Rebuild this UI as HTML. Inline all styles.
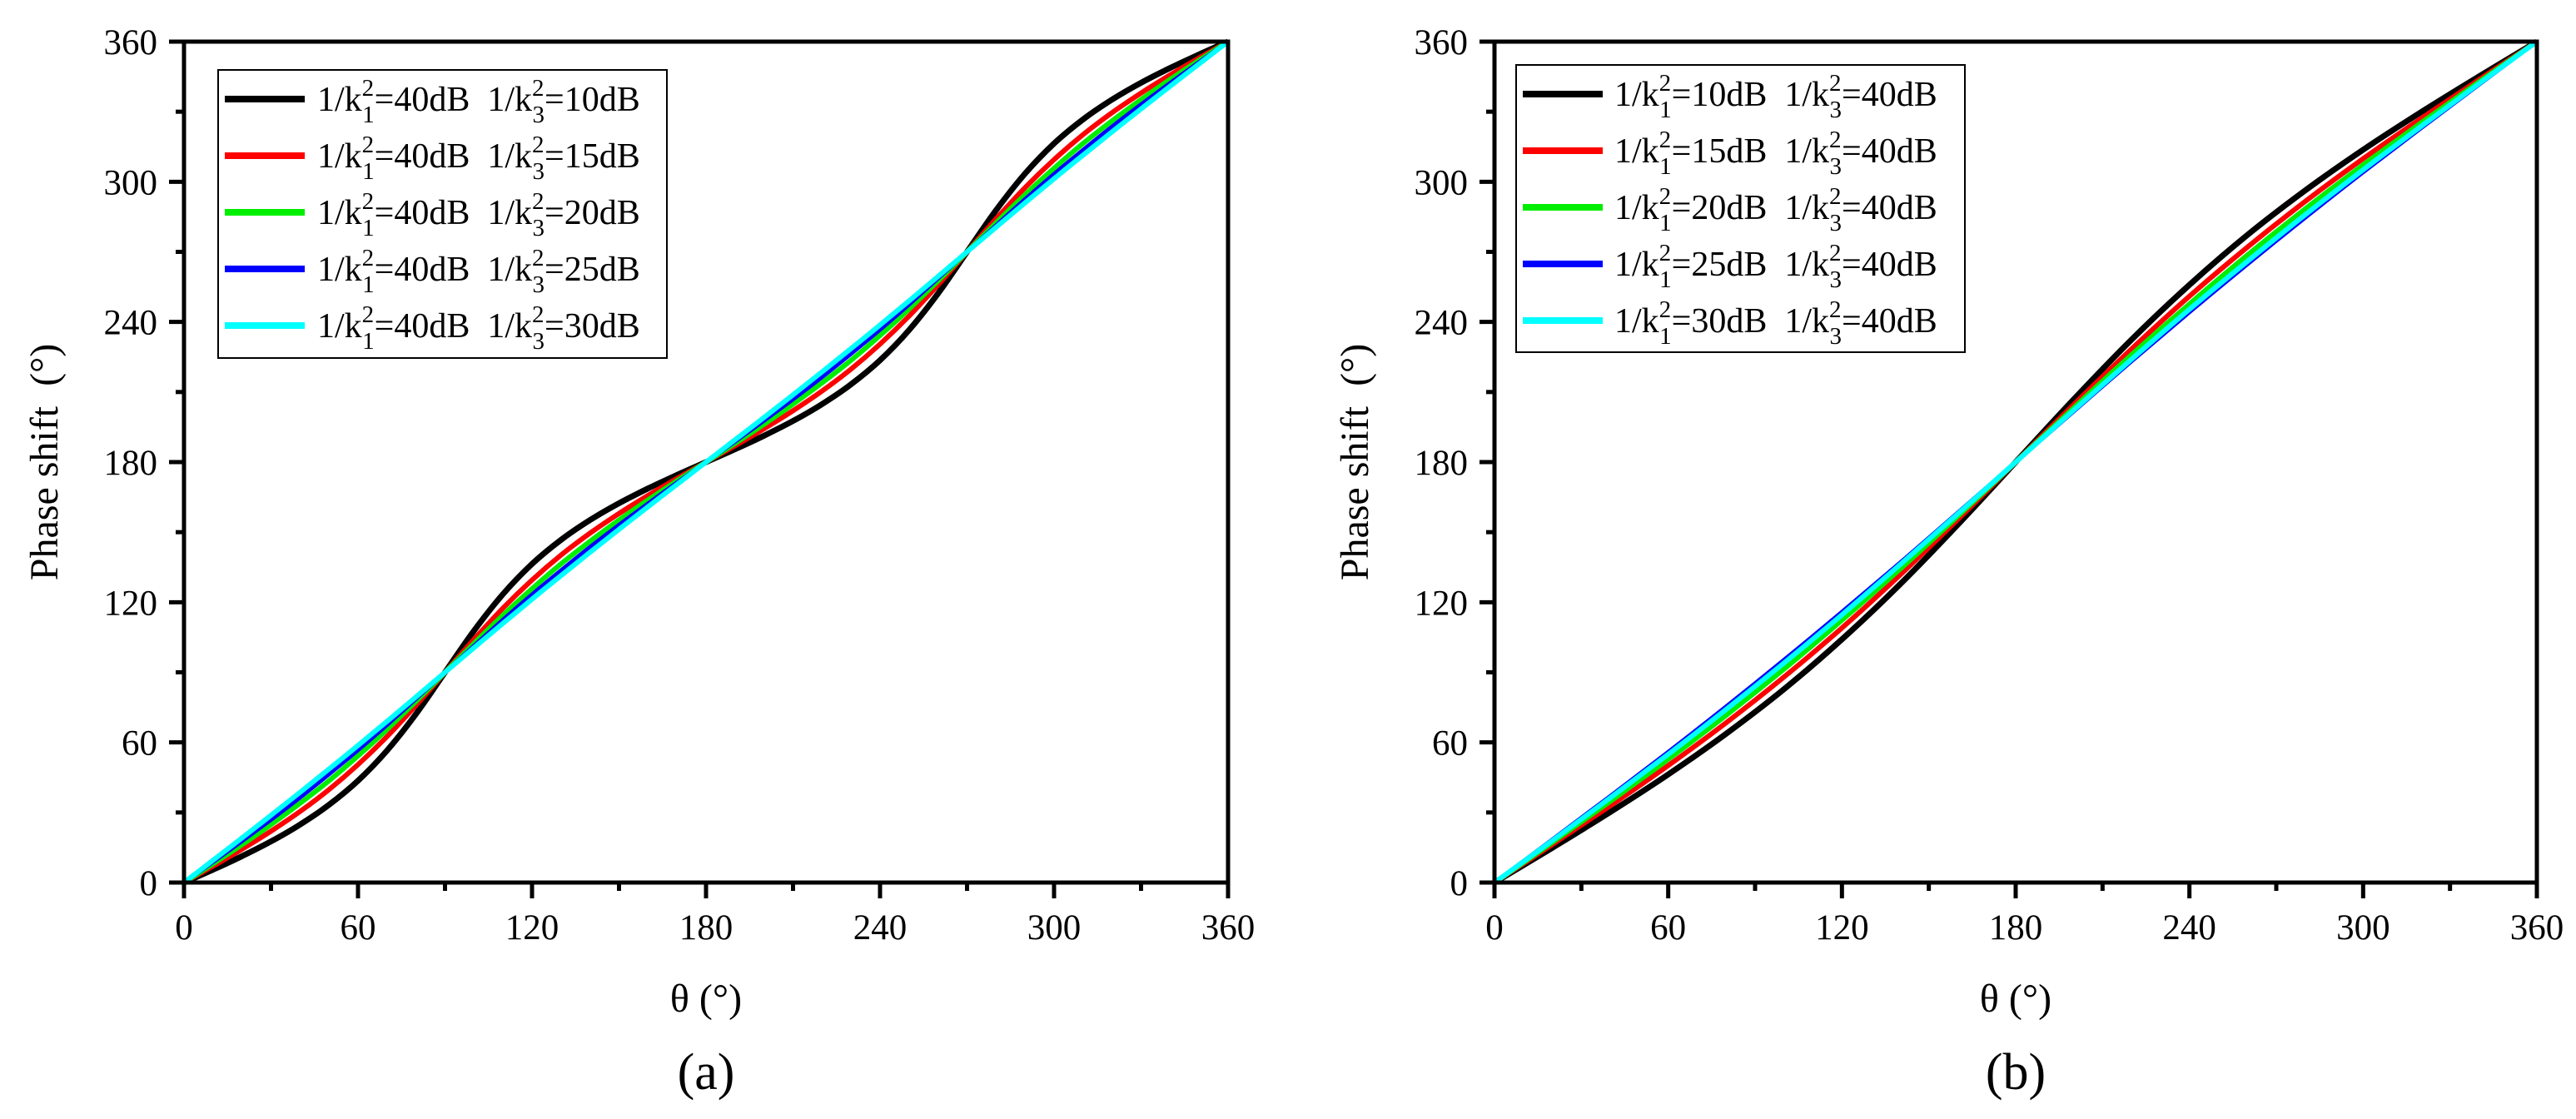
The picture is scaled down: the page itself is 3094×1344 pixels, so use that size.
<!DOCTYPE html>
<html><head><meta charset="utf-8"><style>
html,body{margin:0;padding:0;background:#fff;}
svg{display:block;font-family:"Liberation Serif","DejaVu Serif",serif;}
text{white-space:pre;}
</style></head><body>
<svg id="fig" width="3094" height="1344" viewBox="0 0 3094 1344" xmlns="http://www.w3.org/2000/svg"></svg>
<script>
// ---- data ----
const thetaA = [0,10,20,30,40,50,60,70,80,90,100,110,120,130,140,150,160,170,180,190,200,210,220,230,240,250,260,270,280,290,300,310,320,330,340,350,360];
const aBlack = [0,5.5,11.3,17.6,24.8,33.3,43.6,56.5,72.2,90,107.8,123.5,136.4,146.7,155.2,162.4,168.7,174.5,180,185.5,191.3,197.6,204.8,213.3,223.6,236.5,252.2,270,287.8,303.5,316.4,326.7,335.2,342.4,348.7,354.5,360];
const aRed = [0,7.0,14.3,22.0,30.4,39.8,50.5,62.5,75.9,90,104.1,117.5,129.5,140.2,149.6,158.0,165.7,173.0,180,187.0,194.3,202.0,210.4,219.8,230.5,242.5,255.9,270,284.1,297.5,309.5,320.2,329.6,338.0,345.7,353.0,360];
const aGreen = [0,8.0,16.2,24.8,33.9,43.6,54.2,65.5,77.6,90,102.4,114.5,125.8,136.4,146.1,155.2,163.8,172.0,180,188.0,196.2,204.8,213.9,223.6,234.2,245.5,257.6,270,282.4,294.5,305.8,316.4,326.1,335.2,343.8,352.0,360];
const aBlue = [0,8.8,17.8,26.9,36.4,46.4,56.7,67.5,78.7,90,101.3,112.5,123.3,133.6,143.6,153.1,162.2,171.2,180,188.8,197.8,206.9,216.4,226.4,236.7,247.5,258.7,270,281.3,292.5,303.3,313.6,323.6,333.1,342.2,351.2,360];
const aCyan = [0,9.5,19.1,28.8,38.6,48.6,58.7,69.0,79.5,90,100.5,111.0,121.3,131.4,141.4,151.2,160.9,170.5,180,189.5,199.1,208.8,218.6,228.6,238.7,249.0,259.5,270,280.5,291.0,301.3,311.4,321.4,331.2,340.9,350.5,360];

const thetaB = [0,20,40,60,80,100,120,140,160,180,200,220,240,260,280,300,320,340,360];
const bBlack = [0,14.9,30.2,46.3,63.7,82.8,104.1,127.6,153.2,180,206.8,232.4,255.9,277.2,296.3,313.7,329.8,345.1,360];
const bRed = [0,16.3,32.9,50.1,68.4,88.0,109.0,131.6,155.4,180,204.6,228.4,251.0,272.0,291.6,309.9,327.1,343.7,360];
const bGreen = [0,17.2,34.8,52.8,71.6,91.4,112.3,134.1,156.8,180,203.2,225.9,247.7,268.6,288.4,307.2,325.2,342.8,360];
const bBlue = [0,18.4,37.0,55.9,75.3,95.3,115.8,136.8,158.3,180,201.7,223.2,244.2,264.7,284.7,304.1,323.0,341.6,360];
const bCyan = [0,18.0,36.3,54.9,74.1,94.0,114.6,136.0,157.8,180,202.2,224.0,245.4,265.9,285.9,305.1,323.7,342.0,360];

const tickLabels = ["0","60","120","180","240","300","360"];
const tickValues = [0,60,120,180,240,300,360];
const minorValues = [30,90,150,210,270,330];
const legendA = [["40","10"],["40","15"],["40","20"],["40","25"],["40","30"]];
const legendB = [["10","40"],["15","40"],["20","40"],["25","40"],["30","40"]];

const colors = ["#000000","#ff0000","#00ee00","#0000ff","#00ffff"];
const NS = "http://www.w3.org/2000/svg";
const svg = document.getElementById('fig');
function mk(tag, attrs, parent){const e=document.createElementNS(NS,tag);for(const k in attrs)e.setAttribute(k,attrs[k]);(parent||svg).appendChild(e);return e;}

function smoothPath(pts){
  let d = "M"+pts[0][0].toFixed(1)+","+pts[0][1].toFixed(1);
  for(let i=0;i<pts.length-1;i++){
    const p0=pts[Math.max(0,i-1)],p1=pts[i],p2=pts[i+1],p3=pts[Math.min(pts.length-1,i+2)];
    const c1x=p1[0]+(p2[0]-p0[0])/6,c1y=p1[1]+(p2[1]-p0[1])/6;
    const c2x=p2[0]-(p3[0]-p1[0])/6,c2y=p2[1]-(p3[1]-p1[1])/6;
    d+=" C"+c1x.toFixed(1)+","+c1y.toFixed(1)+" "+c2x.toFixed(1)+","+c2y.toFixed(1)+" "+p2[0].toFixed(1)+","+p2[1].toFixed(1);
  }
  return d;
}

function panel(id, x0, x1, y0, y1, thetas, series, legend, leg, label){
  const g = mk('g',{});
  
  
  const sx = v => x0 + (v/360)*(x1-x0);
  const sy = v => y1 - (v/360)*(y1-y0);
  const widths=[7,6,6,5,6];
  series.forEach((s,i)=>{
    const p = mk('path',{d:smoothPath(thetas.map((t,j)=>[sx(t),sy(s[j])])),fill:'none',stroke:colors[i],'stroke-width':widths[i],'stroke-linejoin':'round'},g);
    
    
  });
  const fr = mk('rect',{x:x0,y:y0,width:x1-x0,height:y1-y0,fill:'none',stroke:'#000','stroke-width':5},g);
  
  
  tickValues.forEach((v,i)=>{
    mk('line',{x1:x0-18,x2:x0,y1:sy(v),y2:sy(v),stroke:'#000','stroke-width':5},g);
    mk('line',{x1:sx(v),x2:sx(v),y1:y1,y2:y1+19,stroke:'#000','stroke-width':5},g);
    const ty = mk('text',{x:x0-32,y:sy(v)+15,'font-size':43,'text-anchor':'end'},g);
    ty.textContent = tickLabels[i];
    
    
    const tx = mk('text',{x:sx(v),y:y1+68,'font-size':43,'text-anchor':'middle'},g);
    tx.textContent = tickLabels[i];
    
    
  });
  minorValues.forEach(v=>{
    mk('line',{x1:x0-10,x2:x0,y1:sy(v),y2:sy(v),stroke:'#000','stroke-width':5},g);
    mk('line',{x1:sx(v),x2:sx(v),y1:y1,y2:y1+10,stroke:'#000','stroke-width':5},g);
  });
  const xt = mk('text',{x:(x0+x1)/2,y:1215,'font-size':48,'text-anchor':'middle'},g);
  xt.textContent = 'θ (°)';
  
  
  const ytx = x0-152;
  const yt = mk('text',{x:ytx,y:(y0+y1)/2,'font-size':48,'text-anchor':'middle',transform:'rotate(-90 '+ytx+' '+((y0+y1)/2)+')'},g);
  yt.textContent = 'Phase shift  (°)';
  
  
  const pl = mk('text',{x:(x0+x1)/2,y:1308,'font-size':62,'text-anchor':'middle'},g);
  pl.textContent = label;
  
  
  const lg = mk('g',{},g);
  
  
  mk('rect',{x:leg.x,y:leg.y,width:leg.w,height:leg.h,fill:'#fff',stroke:'#000','stroke-width':2},lg);
  legend.forEach((e,i)=>{
    const ry = leg.r0 + i*68;
    const en = mk('g',{},lg);
    
    
    mk('line',{x1:leg.lx,x2:leg.lx+96,y1:ry,y2:ry,stroke:colors[i],'stroke-width':8},en);
    const t = mk('text',{x:leg.tx,y:ry+14,'font-size':42},en);
    t.innerHTML = '1/k<tspan font-size="29" dy="-18">2</tspan><tspan font-size="29" dy="32" dx="-14">1</tspan><tspan dy="-14">='+e[0]+'dB  1/k</tspan><tspan font-size="29" dy="-18">2</tspan><tspan font-size="29" dy="32" dx="-14">3</tspan><tspan dy="-14">='+e[1]+'dB</tspan>';
  });
}

panel('panel-a',221,1475,50,1060,thetaA,[aBlack,aRed,aGreen,aBlue,aCyan],legendA,{x:262,y:84,w:539,h:346,r0:119,lx:270,tx:381},'(a)');
panel('panel-b',1795,3047,50,1060,thetaB,[bBlack,bRed,bGreen,bBlue,bCyan],legendB,{x:1821,y:78,w:539,h:345,r0:113,lx:1829,tx:1939},'(b)');
</script>
</body></html>
